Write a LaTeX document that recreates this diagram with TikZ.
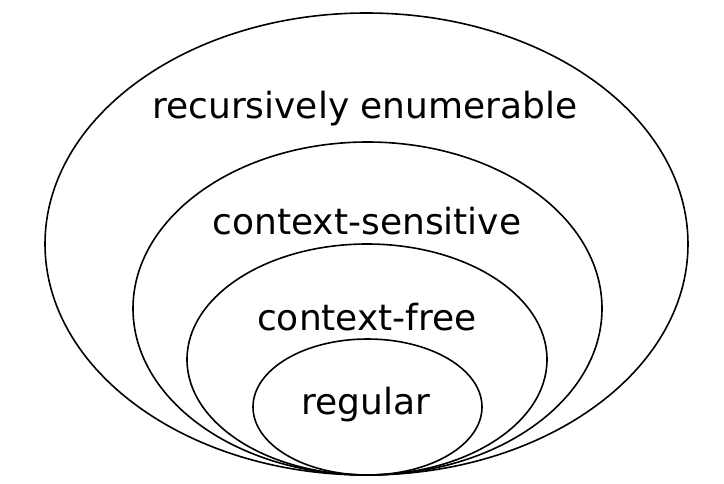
\documentclass[tikz,border=0pt]{standalone}
\usepackage{fontspec}
\setmainfont{DejaVu Sans}
\begin{document}
\begin{tikzpicture}[x=1pt,y=-1pt,
  setline/.style={draw=black,line width=1.6pt},
  lbl/.style={anchor=base,inner sep=0pt,font=\fontsize{36}{40}\selectfont}]
\useasboundingbox (0,0) rectangle (724,483);
\draw[setline] (366.5,244) ellipse [x radius=321.5pt,y radius=231pt];
\draw[setline] (367.5,308.5) ellipse [x radius=234.5pt,y radius=166.5pt];
\draw[setline] (367,359.5) ellipse [x radius=180pt,y radius=115.5pt];
\draw[setline] (367.5,407) ellipse [x radius=114.5pt,y radius=68pt];
\node[lbl] (re) at (365,118) {recursively enumerable};
\node[lbl] (cs) at (367,234) {context-sensitive};
\node[lbl] (cf) at (367,330) {context-free};
\node[lbl] (rg) at (366,414) {regular};
\end{tikzpicture}
\end{document}
